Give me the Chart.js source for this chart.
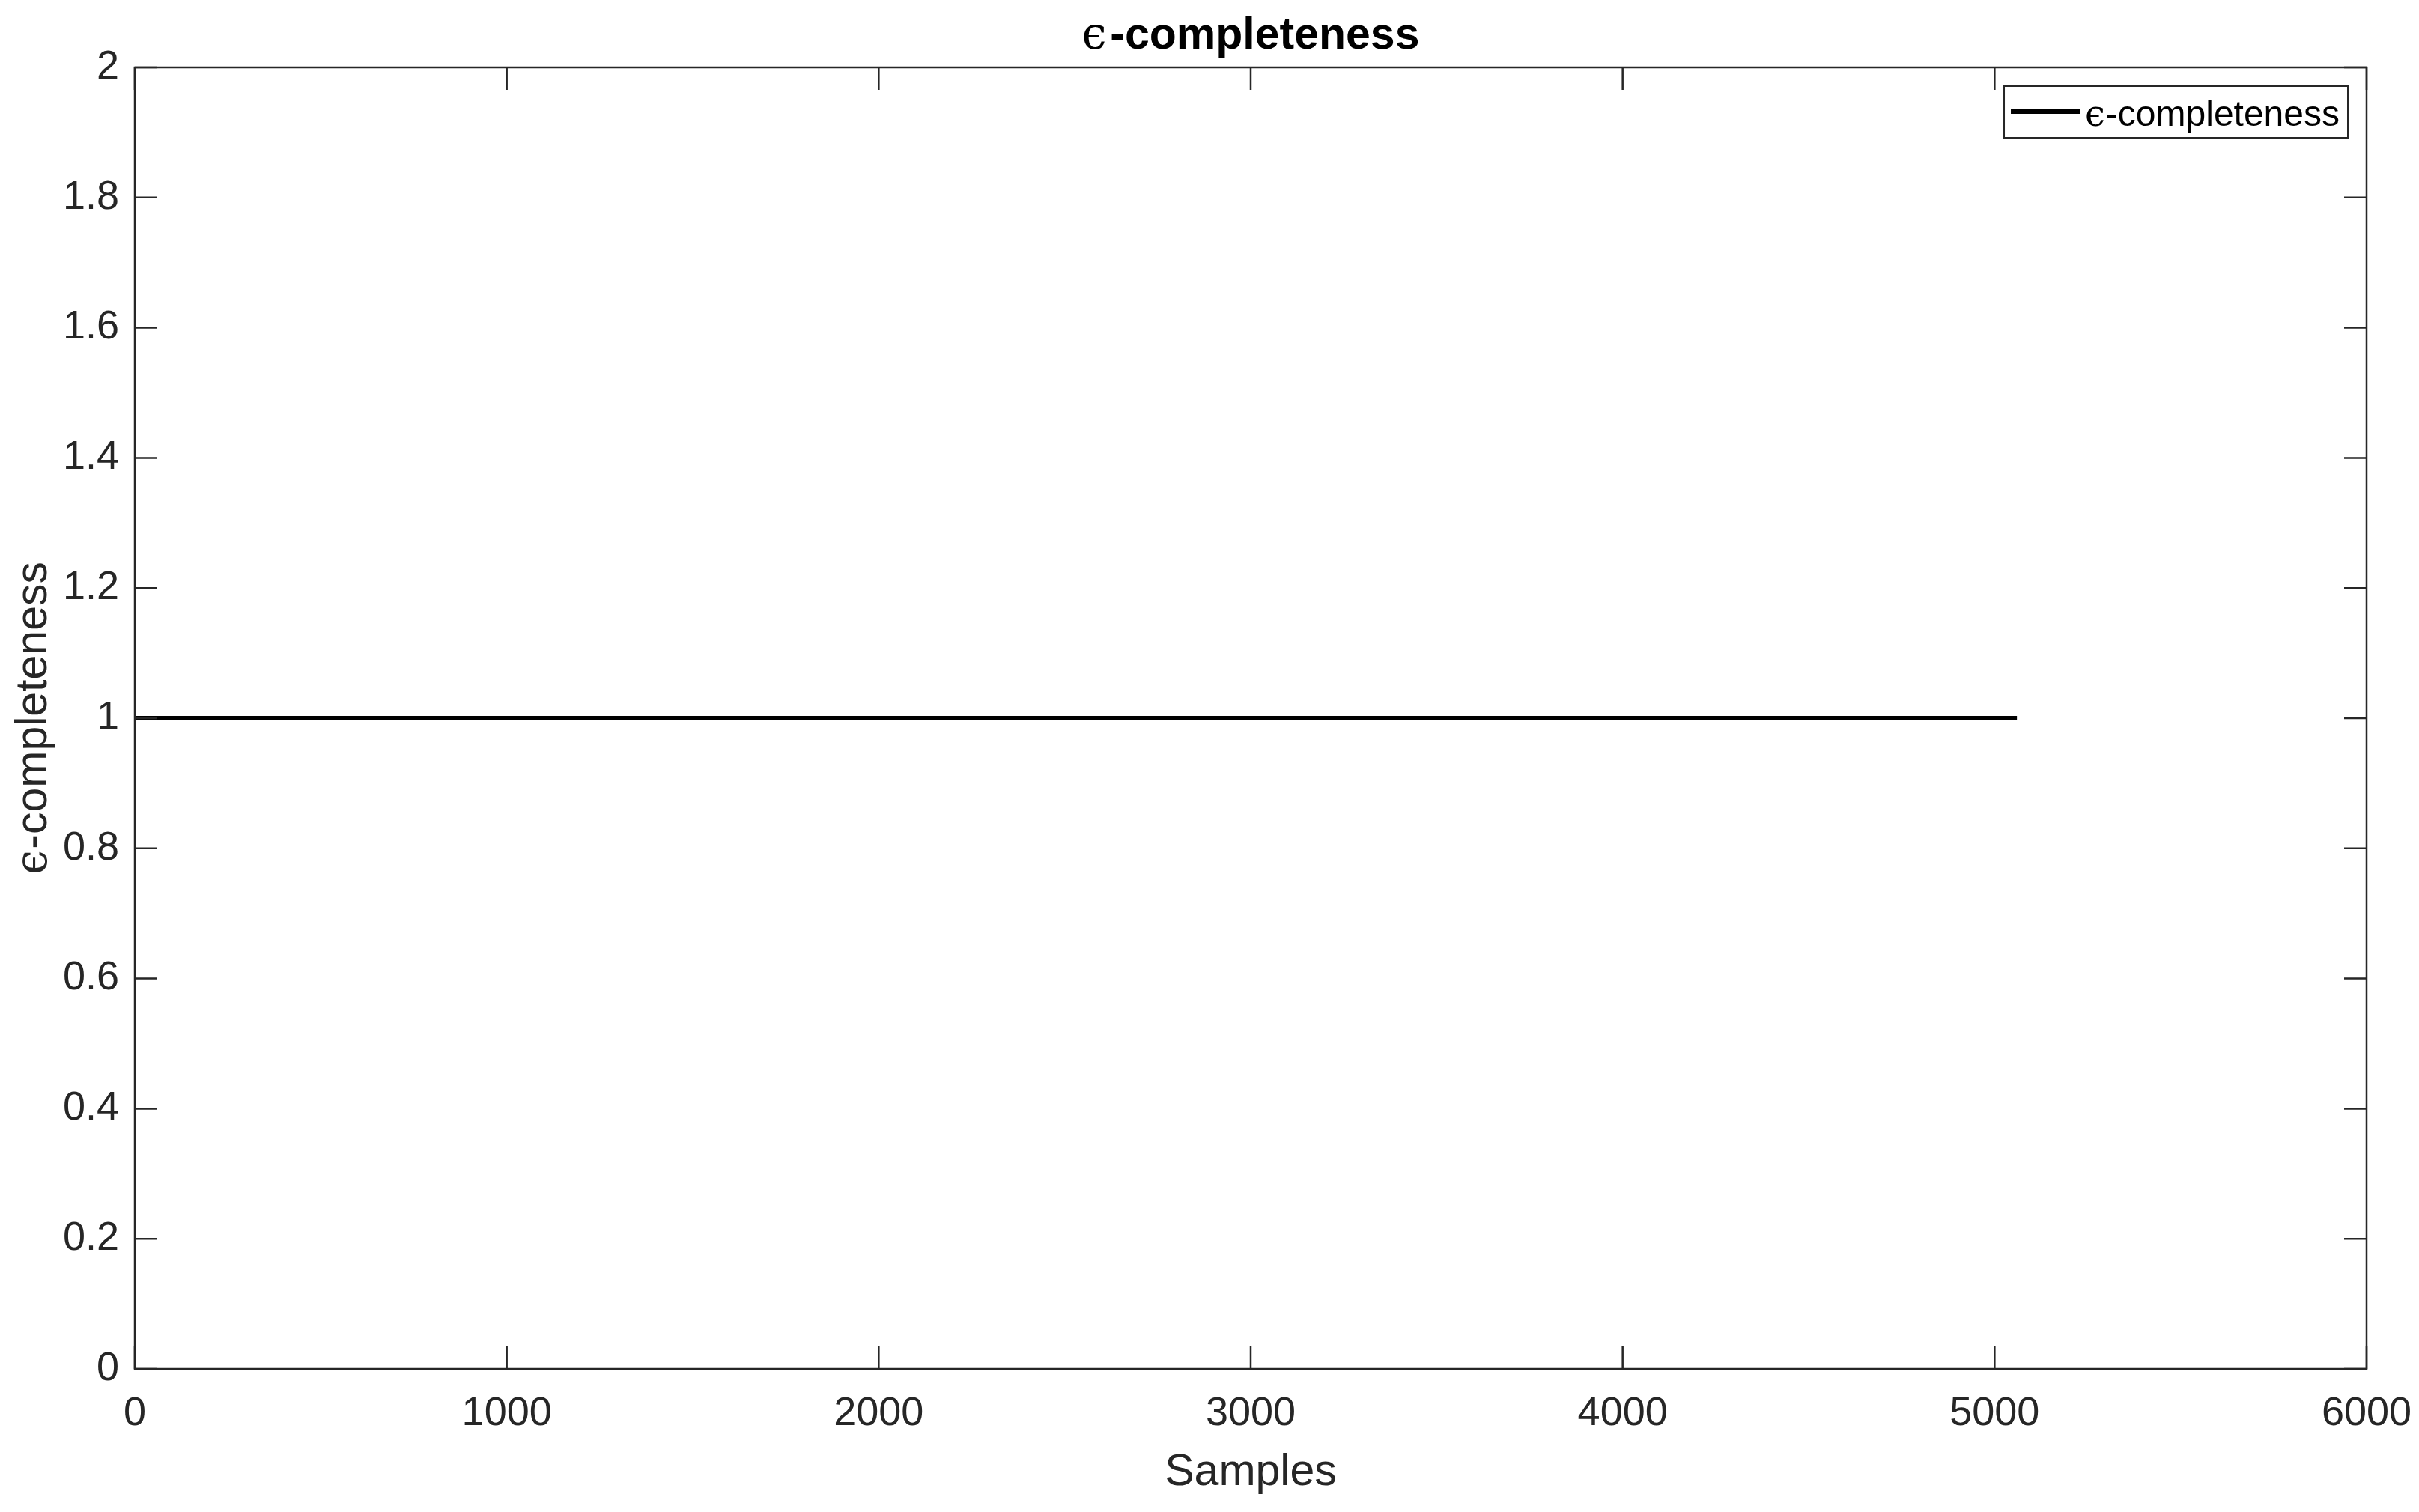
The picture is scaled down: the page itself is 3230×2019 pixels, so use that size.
<!DOCTYPE html>
<html><head><meta charset="utf-8">
<script src="https://cdn.jsdelivr.net/npm/chart.js@4/dist/chart.umd.min.js"></script>
<style>html,body{margin:0;padding:0;background:#fff;overflow:hidden}#wrap{width:3230px;height:2019px}</style>
</head><body><div id="wrap"><canvas id="c" width="3230" height="2019"></canvas></div>
<script>
const titleText = 'ϵ-completeness';
const seriesLabel = 'ϵ-completeness';
const xAxisLabel = 'Samples';
const yAxisLabel = 'ϵ-completeness';
const sampleIdx = [1, 5060];
const completeness = [1, 1];
const xTicks = [0, 1000, 2000, 3000, 4000, 5000, 6000];
const yTicks = [0, 0.2, 0.4, 0.6, 0.8, 1, 1.2, 1.4, 1.6, 1.8, 2];

const FONT = '"Liberation Sans", Arial, Helvetica, sans-serif';
const SERIF = '"DejaVu Serif", "Liberation Serif", serif';
const AX = '#262626';

// split a label into a TeX-like epsilon part and the rest
function parts(txt, size, bold, gapK) {
  const first = txt.charAt(0), rest = txt.slice(1);
  return [
    {t: first, f: size + 'px ' + SERIF, gap: size * gapK},
    {t: rest, f: (bold ? 'bold ' : '') + size + 'px ' + FONT, gap: 0}
  ];
}
function measureParts(ctx, ps) {
  let w = 0;
  ps.forEach(p => { ctx.font = p.f; w += ctx.measureText(p.t).width + p.gap; });
  return w;
}
function drawParts(ctx, ps, x, y) {
  ctx.textAlign = 'left';
  ctx.textBaseline = 'alphabetic';
  ps.forEach(p => { ctx.font = p.f; ctx.fillText(p.t, x, y); x += ctx.measureText(p.t).width + p.gap; });
}

const framePlugin = {
  id: 'frame',
  afterDatasetsDraw(chart) {
    const {ctx, chartArea: a, scales: {x, y}} = chart;
    ctx.save();
    ctx.strokeStyle = AX;
    ctx.lineWidth = 2.5;
    ctx.strokeRect(a.left, a.top, a.right - a.left, a.bottom - a.top);
    const tl = 30;
    ctx.beginPath();
    xTicks.forEach(v => {
      const px = x.getPixelForValue(v);
      ctx.moveTo(px, a.bottom); ctx.lineTo(px, a.bottom - tl);
      ctx.moveTo(px, a.top); ctx.lineTo(px, a.top + tl);
    });
    yTicks.forEach(v => {
      const py = y.getPixelForValue(v);
      ctx.moveTo(a.left, py); ctx.lineTo(a.left + tl, py);
      ctx.moveTo(a.right, py); ctx.lineTo(a.right - tl, py);
    });
    ctx.stroke();

    // title centred over the axes
    const cx = (a.left + a.right) / 2;
    const tp = parts(titleText, 59, true, 0.08);
    ctx.fillStyle = '#000';
    drawParts(ctx, tp, cx - measureParts(ctx, tp) / 2, a.top - 25);

    // y axis label, rotated
    const yp = parts(yAxisLabel, 59, false, 0.02);
    ctx.save();
    ctx.translate(62, (a.top + a.bottom) / 2);
    ctx.rotate(-Math.PI / 2);
    ctx.fillStyle = AX;
    drawParts(ctx, yp, -measureParts(ctx, yp) / 2, 0);
    ctx.restore();

    // legend
    const ds = chart.data.datasets[0];
    const lp = parts(ds.label, 48, false, 0.02);
    const tw = measureParts(ctx, lp);
    const padL = 9, lineW = 92, gap = 7, padR = 11, h = 69;
    const w = padL + lineW + gap + tw + padR;
    const rx = a.right - 25, ty = a.top + 25;
    const lx = rx - w;
    ctx.fillStyle = '#fff';
    ctx.fillRect(lx, ty, w, h);
    ctx.strokeStyle = AX;
    ctx.lineWidth = 2;
    ctx.strokeRect(lx, ty, w, h);
    ctx.strokeStyle = ds.borderColor;
    ctx.lineWidth = ds.borderWidth;
    ctx.beginPath();
    ctx.moveTo(lx + padL, ty + 34);
    ctx.lineTo(lx + padL + lineW, ty + 34);
    ctx.stroke();
    ctx.fillStyle = '#000';
    drawParts(ctx, lp, lx + padL + lineW + gap, ty + 53);
    ctx.restore();
  }
};

new Chart(document.getElementById('c'), {
  type: 'scatter',
  data: {
    datasets: [{
      label: seriesLabel,
      data: sampleIdx.map((s, i) => ({x: s, y: completeness[i]})),
      showLine: true,
      borderColor: '#000',
      borderWidth: 6,
      borderCapStyle: 'butt',
      pointRadius: 0,
      fill: false
    }]
  },
  options: {
    responsive: false,
    devicePixelRatio: 1,
    animation: false,
    layout: {padding: {left: 0, top: 90, right: 70, bottom: 0}},
    plugins: {
      legend: {display: false},
      tooltip: {enabled: false},
      title: {display: false}
    },
    scales: {
      x: {
        type: 'linear',
        min: 0, max: 6000,
        afterBuildTicks: s => { s.ticks = xTicks.map(v => ({value: v})); },
        afterFit: s => { s.height = 191; s.paddingLeft = 0; s.paddingRight = 0; },
        grid: {display: false, drawTicks: false},
        border: {display: false},
        ticks: {color: AX, font: {family: FONT, size: 54}, padding: 28, maxRotation: 0, autoSkip: false,
                callback: v => String(v)},
        title: {display: true, text: xAxisLabel, color: AX, font: {family: FONT, size: 59, lineHeight: 1.2},
                padding: {top: 0, bottom: 17}}
      },
      y: {
        type: 'linear',
        min: 0, max: 2,
        afterBuildTicks: s => { s.ticks = yTicks.map(v => ({value: v})); },
        afterFit: s => { s.width = 180; s.paddingTop = 0; s.paddingBottom = 0; },
        grid: {display: false, drawTicks: false},
        border: {display: false},
        ticks: {color: AX, font: {family: FONT, size: 54}, padding: 21, autoSkip: false,
                callback: v => String(Number(v.toFixed(1)))},
        title: {display: false}
      }
    }
  },
  plugins: [framePlugin]
});
</script>
</body></html>
